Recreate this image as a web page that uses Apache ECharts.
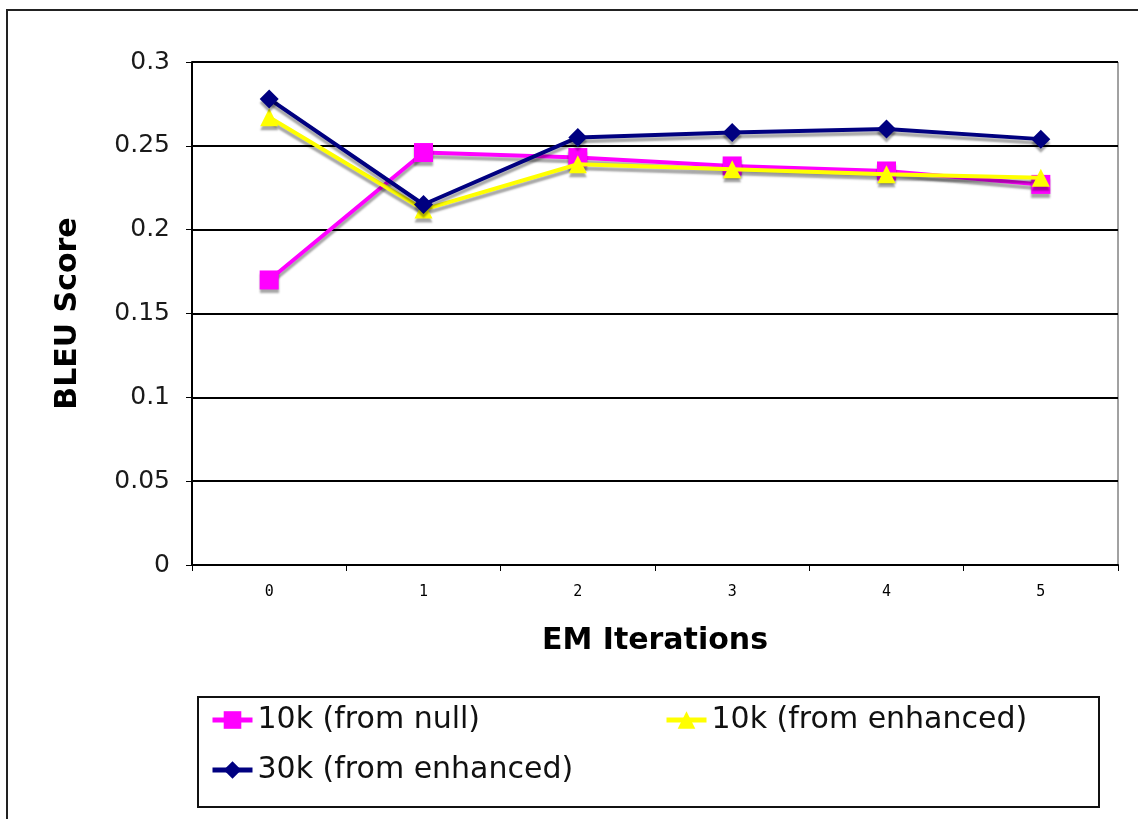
<!DOCTYPE html>
<html>
<head>
<meta charset="utf-8">
<title>BLEU Score vs EM Iterations</title>
<script src="https://cdn.jsdelivr.net/npm/echarts@6/dist/echarts.min.js"></script>
<style>
  html, body { margin: 0; padding: 0; background: #ffffff; }
  #chart { width: 1138px; height: 819px; }
</style>
</head>
<body>
<div id="chart"></div>
<script>
// EM iteration categories
const iterations = ['0', '1', '2', '3', '4', '5'];

// BLEU scores per run
const nullStart10k = [0.170, 0.246, 0.243, 0.238, 0.235, 0.227];
const enhanced10k  = [0.267, 0.212, 0.239, 0.236, 0.233, 0.231];
const enhanced30k  = [0.278, 0.215, 0.255, 0.258, 0.260, 0.254];

// y-axis ticks
const yMin = 0, yMax = 0.3, yStep = 0.05;

const seriesNames = ['10k (from null)', '10k (from enhanced)', '30k (from enhanced)'];
const seriesColors = ['#FF00FF', '#FFFF00', '#000080'];
const seriesSymbols = ['rect', 'triangle', 'diamond'];
const symbolSizes = [19, 18, 19];
const seriesValues = [nullStart10k, enhanced10k, enhanced30k];

const font = 'DejaVu Sans, Verdana, sans-serif';

const chart = echarts.init(document.getElementById('chart'), null, { renderer: 'canvas' });

const series = seriesNames.map((name, i) => ({
  name: name,
  type: 'line',
  data: seriesValues[i],
  symbol: seriesSymbols[i],
  symbolSize: symbolSizes[i],
  z: 2 + i,
  lineStyle: {
    color: seriesColors[i],
    width: 4,
    shadowColor: 'rgba(0,0,0,0.35)',
    shadowOffsetY: 4,
    shadowBlur: 2
  },
  itemStyle: {
    color: seriesColors[i],
    borderWidth: 0,
    shadowColor: 'rgba(0,0,0,0.35)',
    shadowOffsetY: 4,
    shadowBlur: 2
  },
  emphasis: { disabled: true },
  animation: false
}));

const legendText = { fontFamily: font, fontSize: 30, color: '#111' };
const legendCommon = {
  orient: 'horizontal',
  itemWidth: 40,
  itemHeight: 22,
  itemGap: 6,
  textStyle: legendText,
  lineStyle: { width: 5, shadowBlur: 0, shadowOffsetY: 0 },
  itemStyle: { shadowBlur: 0, shadowOffsetY: 0 },
  selectedMode: false,
  padding: 0
};

chart.setOption({
  backgroundColor: '#ffffff',
  animation: false,
  graphic: [
    {
      type: 'rect',
      shape: { x: 7, y: 10, width: 1145, height: 830 },
      style: { fill: 'none', stroke: '#222', lineWidth: 2 },
      silent: true
    },
    {
      type: 'rect',
      shape: { x: 198, y: 697, width: 901, height: 110 },
      style: { fill: 'none', stroke: '#111', lineWidth: 2 },
      silent: true
    }
  ],
  grid: {
    left: 192,
    right: 20,
    top: 62,
    bottom: 254,
    show: true,
    borderColor: '#444',
    borderWidth: 1
  },
  legend: [
    Object.assign({ data: [seriesNames[0]], left: 210, top: 705 }, legendCommon),
    Object.assign({ data: [seriesNames[1]], left: 664, top: 705 }, legendCommon),
    Object.assign({ data: [seriesNames[2]], left: 210, top: 755 }, legendCommon)
  ],
  xAxis: {
    type: 'category',
    data: iterations,
    boundaryGap: true,
    name: 'EM Iterations',
    nameLocation: 'middle',
    nameGap: 61,
    nameTextStyle: { fontFamily: font, fontSize: 30, fontWeight: 'bold', color: '#000' },
    axisLine: { lineStyle: { color: '#000', width: 2 } },
    axisTick: { show: true, alignWithLabel: false, length: 6, lineStyle: { color: '#000', width: 1 } },
    axisLabel: { fontFamily: 'DejaVu Sans Mono, monospace', fontSize: 15, color: '#000', margin: 20 },
    splitLine: { show: false }
  },
  yAxis: {
    type: 'value',
    min: yMin,
    max: yMax,
    interval: yStep,
    name: 'BLEU Score',
    nameLocation: 'middle',
    nameGap: 109,
    nameRotate: 90,
    nameTextStyle: { fontFamily: font, fontSize: 30, fontWeight: 'bold', color: '#000' },
    axisLine: { show: true, lineStyle: { color: '#000', width: 2 } },
    axisTick: { show: true, length: 6, lineStyle: { color: '#000', width: 1 } },
    axisLabel: {
      fontFamily: font,
      fontSize: 25,
      color: '#1a1a1a',
      margin: 22,
      formatter: v => String(parseFloat(v.toFixed(2)))
    },
    splitLine: { show: true, lineStyle: { color: '#000', width: 2 } }
  },
  series: series
});
</script>
</body>
</html>
